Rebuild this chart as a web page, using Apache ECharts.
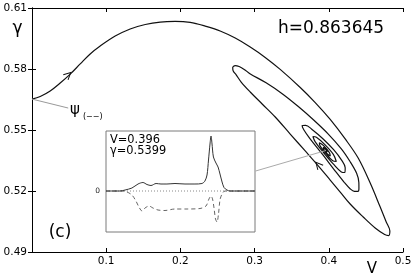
<!DOCTYPE html>
<html><head><meta charset="utf-8">
<script src="https://cdn.jsdelivr.net/npm/echarts@6/dist/echarts.min.js"></script>
<style>html,body{margin:0;padding:0;background:#fff}#c{width:415px;height:277px}</style>
</head><body><div id="c"></div>
<script>
// Phase-plane orbit (V, gamma)
const orbitV = [0,0.0111,0.0245,0.0380,0.0515,0.0650,0.0784,0.0919,0.1121,0.1323,0.1526,0.1728,0.1930,0.2132,0.2334,0.2536,0.2739,0.2941,0.3143,0.3345,0.3615,0.3817,0.4019,0.4221,0.4396,0.4558,0.4693,0.4774,0.4823,0.4807,
0.4753,0.4625,0.4464,0.4288,0.4154,0.4019,0.3884,0.3682,0.3480,0.3278,0.3102,0.2941,0.2819,0.2752,0.2712,0.2705,0.2739,0.2792,0.2860,
0.2937,0.3155,0.3381,0.3593,0.3796,0.3990,0.4169,0.4286,0.4375,0.4405,0.4406,0.4392,0.4345,0.4287,0.4205,0.4079,0.3913,0.3743,0.3665,0.3640,
0.3688,0.3770,0.3924,0.4065,0.4172,0.4221,0.4217,0.4169,0.4063,0.3932,0.3815,0.3786,0.3833,0.3944,0.4061,0.4101,0.4053,0.3961,0.3878,0.3873,
0.3930,0.4008,0.4020,0.3977,0.3928,0.3927,0.3966,0.3979,0.3960];
const orbitGamma = [0.5652,0.5665,0.5692,0.5731,0.5775,0.5825,0.5874,0.5913,0.5962,0.5997,0.6019,0.6031,0.6034,0.6029,0.6011,0.5987,0.5952,0.5908,0.5857,0.5798,0.5709,0.5635,0.5552,0.5456,0.5362,0.5239,0.5121,0.5048,0.5003,0.4981,
0.4986,0.5018,0.5072,0.5136,0.5195,0.5254,0.5313,0.5397,0.5480,0.5564,0.5628,0.5687,0.5736,0.5771,0.5790,0.5807,0.5817,0.5812,0.5798,
0.5777,0.5732,0.5676,0.5614,0.5549,0.5481,0.5407,0.5345,0.5287,0.5242,0.5214,0.5198,0.5198,0.5211,0.5244,0.5302,0.5381,0.5459,0.5500,0.5522,
0.5523,0.5504,0.5456,0.5403,0.5352,0.5314,0.5291,0.5294,0.5332,0.5388,0.5443,0.5468,0.5464,0.5429,0.5380,0.5346,0.5349,0.5385,0.5425,0.5437,
0.5423,0.5389,0.5372,0.5384,0.5408,0.5415,0.5401,0.5392,0.5399];

const xTicks = [0.1,0.2,0.3,0.4,0.5];
const yTicks = [0.49,0.52,0.55,0.58,0.61];

// direction arrows on the orbit
const arrowV = [0.0488, 0.3857];
const arrowGamma = [0.5771, 0.5328];
const arrowAngle = [-47, 41];

// annotation leader lines
const psiLinkV = [0, 0.0488];
const psiLinkGamma = [0.5652, 0.5608];
const insetLinkV = [0.3011, 0.396];
const insetLinkGamma = [0.5298, 0.5399];

// inset profiles at the fixed point
const solidXi = [0,9.4,12.8,17.4,21.5,24.8,27.5,30.2,33.6,36.9,40.9,46.3,53,59.7,64.4,66.4,67.8,68.8,69.8,70.5,71.1,72.1,73.8,75.2,76.5,77.9,79.2,81.2,83.2,100];
const solidU = [0,0,0.1,0.3,0.7,0.85,0.65,0.55,0.75,0.7,0.7,0.75,0.7,0.7,0.75,1.0,1.6,3.1,4.7,5.5,4.8,3.4,2.8,2.4,1.7,0.9,0.35,0.1,0,0];
const dashedXi = [0,10.7,14.1,17.4,20.1,22.1,24.2,26.2,28.9,31.5,34.9,39.6,46.3,54.4,63.1,67.1,69.1,70.5,71.5,72.5,73.5,74.5,75.5,76.5,77.9,79.9,100];
const dashedW = [0,0,-0.1,-0.4,-1.0,-1.6,-2.0,-1.7,-1.5,-1.7,-1.9,-1.95,-1.8,-1.8,-1.75,-1.5,-0.8,-0.5,-0.8,-1.7,-2.8,-3.1,-2.3,-0.9,-0.3,0,0];
const zeroXi = [0, 100];
const zeroVal = [0, 0];

const pair = (a, b) => a.map((v, i) => [v, b[i]]);
const F = '"DejaVu Sans", sans-serif';

const chart = echarts.init(document.getElementById('c'), null, {renderer: 'canvas'});
chart.setOption({
  animation: false,
  backgroundColor: '#fff',
  grid: [
    {left: 32, right: 12, top: 8, bottom: 25},
    {left: 106, top: 131, width: 149, height: 101, show: true, backgroundColor: '#fff', borderColor: '#7a7a7a', borderWidth: 1, z: 3}
  ],
  xAxis: [
    {gridIndex: 0, type: 'value', min: 0, max: 0.5, interval: 0.1, position: 'bottom',
     axisLine: {lineStyle: {color: '#000', width: 1}},
     axisTick: {inside: true, length: 4, lineStyle: {color: '#000'}, customValues: xTicks},
     axisLabel: {customValues: xTicks, formatter: v => v.toFixed(1), color: '#000', fontFamily: '"DejaVu Sans"', fontSize: 10.5, margin: 4},
     splitLine: {show: false}},
    {gridIndex: 0, type: 'value', min: 0, max: 0.5, interval: 0.1, position: 'top',
     axisLine: {lineStyle: {color: '#000', width: 1}},
     axisTick: {inside: true, length: 4, lineStyle: {color: '#000'}, customValues: xTicks},
     axisLabel: {show: false}, splitLine: {show: false}},
    {gridIndex: 1, type: 'value', min: 0, max: 100, show: false}
  ],
  yAxis: [
    {gridIndex: 0, type: 'value', min: 0.49, max: 0.61, position: 'left',
     axisLine: {show: true, lineStyle: {color: '#000', width: 1}},
     axisTick: {show: true, inside: true, length: 4, lineStyle: {color: '#000'}, customValues: yTicks},
     axisLabel: {customValues: yTicks, formatter: v => v.toFixed(2), color: '#000', fontFamily: '"DejaVu Sans"', fontSize: 10.5, margin: 5},
     splitLine: {show: false}},
    {gridIndex: 0, type: 'value', min: 0.49, max: 0.61, position: 'right',
     axisLine: {show: true, lineStyle: {color: '#000', width: 1}},
     axisTick: {show: true, inside: true, length: 4, lineStyle: {color: '#000'}, customValues: yTicks},
     axisLabel: {show: false}, splitLine: {show: false}},
    {gridIndex: 1, type: 'value', min: -4.1, max: 6,
     axisLine: {show: false}, axisTick: {show: false}, splitLine: {show: false},
     axisLabel: {customValues: [0], formatter: v => String(v), color: '#222', fontFamily: '"DejaVu Sans"', fontSize: 7.5, margin: 6}}
  ],
  series: [
    {type: 'line', xAxisIndex: 0, yAxisIndex: 0, data: pair(orbitV, orbitGamma), showSymbol: false, smooth: 0.35,
     lineStyle: {color: '#111', width: 1.2}, z: 2, silent: true,
     markPoint: {symbol: 'path://M0,10 L5,0 L10,10', symbolSize: [7, 7],
       itemStyle: {color: 'rgba(0,0,0,0)', borderColor: '#111', borderWidth: 1},
       label: {show: false}, silent: true,
       data: arrowV.map((v, i) => ({coord: [v, arrowGamma[i]], symbolRotate: arrowAngle[i]}))}},
    {type: 'line', xAxisIndex: 0, yAxisIndex: 0, data: pair(psiLinkV, psiLinkGamma), showSymbol: false,
     lineStyle: {color: '#999', width: 1}, silent: true},
    {type: 'line', xAxisIndex: 0, yAxisIndex: 0, data: pair(insetLinkV, insetLinkGamma), showSymbol: false,
     lineStyle: {color: '#aaa', width: 1}, silent: true},
    {type: 'line', xAxisIndex: 2, yAxisIndex: 2, data: pair(zeroXi, zeroVal), showSymbol: false,
     lineStyle: {color: '#888', width: 1, type: [1, 2]}, silent: true, z: 4},
    {type: 'line', xAxisIndex: 2, yAxisIndex: 2, data: pair(dashedXi, dashedW), showSymbol: false, smooth: 0.3,
     lineStyle: {color: '#555', width: 0.9, type: [4, 3]}, silent: true, z: 5},
    {type: 'line', xAxisIndex: 2, yAxisIndex: 2, data: pair(solidXi, solidU), showSymbol: false, smooth: 0.3,
     lineStyle: {color: '#333', width: 1}, silent: true, z: 6}
  ],
  graphic: [
    {type: 'text', z: 10, style: {x: 278, y: 29, text: 'h=0.863645', font: '17px ' + F, fill: '#000', verticalAlign: 'middle'}},
    {type: 'text', z: 10, style: {x: 60, y: 233, text: '(c)', font: '17px ' + F, fill: '#000', align: 'center', verticalAlign: 'middle'}},
    {type: 'text', z: 10, style: {x: 17.5, y: 29, text: 'γ', font: '17px ' + F, fill: '#000', align: 'center', verticalAlign: 'middle'}},
    {type: 'text', z: 10, style: {x: 372, y: 269, text: 'V', font: '15px ' + F, fill: '#000', align: 'center', verticalAlign: 'middle'}},
    {type: 'text', z: 10, style: {x: 75, y: 110, text: 'ψ', font: '15px ' + F, fill: '#000', align: 'center', verticalAlign: 'middle'}},
    {type: 'text', z: 10, style: {x: 83, y: 117, text: '(−−)', font: '8px ' + F, fill: '#000', verticalAlign: 'middle'}},
    {type: 'text', z: 10, style: {x: 110, y: 140.5, text: 'V=0.396', font: '11.4px ' + F, fill: '#000', verticalAlign: 'middle'}},
    {type: 'text', z: 10, style: {x: 110, y: 151, text: 'γ=0.5399', font: '11.4px ' + F, fill: '#000', verticalAlign: 'middle'}}
  ]
});
</script></body></html>
